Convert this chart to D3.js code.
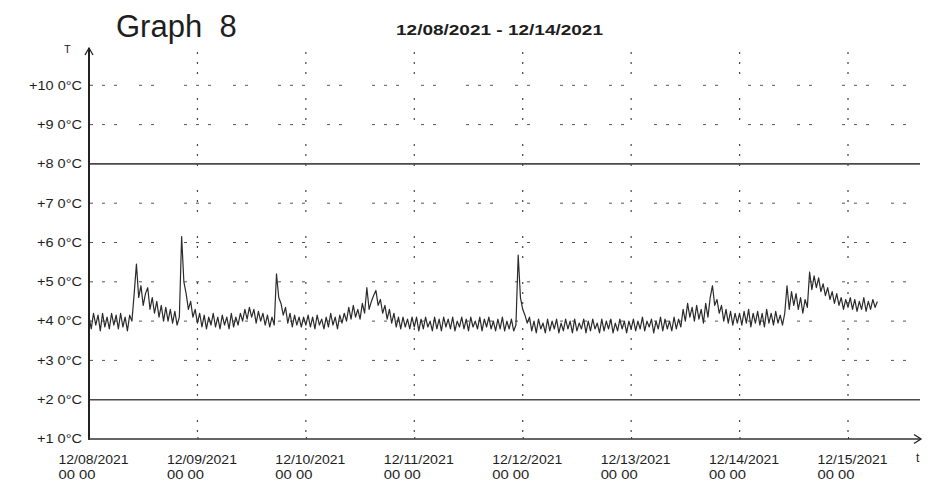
<!DOCTYPE html>
<html>
<head>
<meta charset="utf-8">
<script src="https://cdn.jsdelivr.net/npm/d3@7"></script>
<style>
  body { margin: 0; background: #fff; }
  svg { display: block; }
  text { font-family: "Liberation Sans", Arial, sans-serif; fill: #1e1e1e; }
</style>
</head>
<body>
<div id="chart"></div>
<script>
// chart texts
const titleText = "Graph  8";
const rangeText = "12/08/2021 - 12/14/2021";

// y axis ticks (degrees) and their labels as printed
const yTicks = [1, 2, 3, 4, 5, 6, 7, 8, 9, 10];
const yLabels = ["+1 0°C", "+2 0°C", "+3 0°C", "+4 0°C", "+5 0°C",
                 "+6 0°C", "+7 0°C", "+8 0°C", "+9 0°C", "+10 0°C"];
const gridLevels = [3, 4, 5, 6, 7, 9, 10];
const limitLevels = [2, 8];

// x axis days
const dayTicks = ["2021-12-08", "2021-12-09", "2021-12-10", "2021-12-11",
                  "2021-12-12", "2021-12-13", "2021-12-14", "2021-12-15"];
const dayLabels = ["12/08/2021", "12/09/2021", "12/10/2021", "12/11/2021",
                   "12/12/2021", "12/13/2021", "12/14/2021", "12/15/2021"];
const timeLabel = "00 00";

// temperature readings, one every 30 minutes, starting at each day 00:00
const day08 = [4.1,3.8,4.2,3.9,4.15,3.75,4.2,3.85,4.1,3.8,4.2,3.9,4.15,3.8,4.2,3.85,4.1,3.75,4.15,
  4.0,4.7,5.45,4.6,4.9,4.4,4.7,4.85,4.3,4.6,4.2,4.5,4.1,4.4,4.0,4.35,4.0,4.3,3.95,4.25,3.9,4.1,
  6.15,5.0,4.7,4.3,4.5,4.1,4.3];
const day09 = [3.95,4.2,3.85,4.15,3.8,4.1,3.9,4.2,3.85,4.1,3.8,4.15,3.9,4.1,3.8,4.2,3.85,4.1,3.9,4.2,
  4.0,4.3,4.05,4.35,4.1,4.3,3.95,4.25,4.0,4.2,3.9,4.15,3.85,4.1,3.9,
  5.2,4.6,4.45,4.15,4.35,3.95,4.2,3.85,4.15,3.9,4.1,3.85,4.1];
const day10 = [3.9,4.15,3.85,4.1,3.8,4.15,3.9,4.05,3.8,4.1,3.85,4.2,3.9,4.1,3.8,4.15,3.95,4.2,
  4.0,4.35,4.05,4.4,4.1,4.3,4.05,4.45,4.2,4.85,4.3,4.5,4.65,4.78,4.4,4.55,4.2,4.4,
  4.05,4.3,3.95,4.2,3.85,4.1,3.8,4.1,3.85,4.05,3.8,4.1];
const day11 = [3.85,4.1,3.75,4.05,3.8,4.1,3.85,4.0,3.75,4.1,3.8,4.05,3.75,4.1,3.85,4.05,3.8,4.1,3.75,4.0,
  3.85,4.1,3.8,4.05,3.75,4.1,3.85,4.0,3.8,4.1,3.75,4.05,3.85,4.1,3.8,4.0,3.75,4.05,3.8,4.1,
  3.75,4.0,3.8,4.05,3.75,3.9,5.68,4.6];
const day12 = [4.3,4.15,3.95,4.1,3.75,4.0,3.7,4.05,3.8,3.95,3.7,4.05,3.75,4.0,3.8,4.05,3.7,3.95,3.75,4.05,
  3.8,4.0,3.7,4.05,3.75,3.95,3.8,4.05,3.7,4.0,3.75,4.05,3.8,3.95,3.7,4.05,3.75,4.0,3.8,4.05,
  3.7,3.95,3.75,4.05,3.8,4.0,3.7,4.0];
const day13 = [3.8,4.05,3.75,4.0,3.8,4.1,3.75,4.0,3.85,4.05,3.7,4.0,3.8,4.1,3.75,4.05,3.8,4.0,3.75,4.1,
  3.8,4.05,3.85,4.3,4.0,4.45,4.1,4.35,4.0,4.4,4.05,4.3,3.95,4.45,4.1,4.6,4.9,4.4,4.55,4.2,
  4.4,4.0,4.3,3.95,4.25,3.9,4.2,3.95];
const day14 = [4.2,3.9,4.25,3.95,4.3,3.85,4.2,3.95,4.25,3.9,4.2,3.85,4.3,3.95,4.2,3.9,4.25,3.95,4.15,3.9,
  4.2,4.9,4.3,4.75,4.4,4.7,4.3,4.6,4.2,4.55,4.35,5.25,4.8,5.15,4.85,5.1,4.75,4.95,4.65,4.85,
  4.55,4.75,4.45,4.7,4.4,4.6,4.3,4.55];
const day15 = [4.35,4.6,4.3,4.55,4.25,4.5,4.3,4.6,4.25,4.5,4.3,4.55,4.35,4.5];
const dayReadings = [day08, day09, day10, day11, day12, day13, day14, day15];

const W = 935, H = 485;
const svg = d3.select('#chart').append('svg')
  .attr('width', W)
  .attr('height', H);

const parseDay = d3.utcParse('%Y-%m-%d');
const days = dayTicks.map(parseDay);

const x = d3.scaleUtc()
  .domain([days[0], days[7]])
  .range([89, 848]);

const y = d3.scaleLinear()
  .domain([1, 10])
  .range([439, 85.3]);

const xEnd = 920;

// build the series
const series = [];
dayReadings.forEach((vals, di) => {
  vals.forEach((v, i) => {
    series.push({ t: d3.utcMinute.offset(days[di], i * 30), v: v });
  });
});

// dotted grid
svg.append('g')
  .selectAll('line')
  .data(gridLevels)
  .join('line')
  .attr('x1', 90).attr('x2', xEnd - 14)
  .attr('y1', d => y(d)).attr('y2', d => y(d))
  .attr('stroke', '#555')
  .attr('stroke-width', 1)
  .attr('stroke-dasharray', '3,9,3,9,3,22,3,9,3,30');

svg.append('g')
  .selectAll('line')
  .data(days.slice(1))
  .join('line')
  .attr('x1', d => x(d)).attr('x2', d => x(d))
  .attr('y1', 52).attr('y2', 436)
  .attr('stroke', '#444')
  .attr('stroke-width', 1.2)
  .attr('stroke-dasharray', '2,8,2,8,2,24');

// solid limit lines
svg.append('g')
  .selectAll('line')
  .data(limitLevels)
  .join('line')
  .attr('x1', 89).attr('x2', xEnd)
  .attr('y1', d => y(d)).attr('y2', d => y(d))
  .attr('stroke', '#4a4a4a')
  .attr('stroke-width', 1.6);

// temperature line
const line = d3.line()
  .x(d => x(d.t))
  .y(d => y(d.v));

svg.append('path')
  .datum(series)
  .attr('fill', 'none')
  .attr('stroke', '#2b2b2b')
  .attr('stroke-width', 1.2)
  .attr('stroke-linejoin', 'round')
  .attr('d', line);

// y axis
const yAxis = d3.axisLeft(y)
  .tickValues(yTicks)
  .tickSize(0)
  .tickPadding(7)
  .tickFormat((d, i) => yLabels[i]);
const gy = svg.append('g')
  .attr('transform', 'translate(89,0)')
  .call(yAxis);
gy.select('.domain').remove();
gy.selectAll('.tick text')
  .attr('font-size', '12px')
  .attr('fill', '#1e1e1e')
  .attr('textLength', (d, i) => yLabels[i].length > 6 ? 53 : 45)
  .attr('lengthAdjust', 'spacingAndGlyphs');

// x axis
const xAxis = d3.axisBottom(x)
  .tickValues(days)
  .tickSize(0)
  .tickFormat('');
const gx = svg.append('g')
  .attr('transform', 'translate(0,439)')
  .call(xAxis);
gx.select('.domain').remove();
gx.selectAll('.tick').each(function (d, i) {
  const tk = d3.select(this);
  tk.select('text').remove();
  tk.append('text')
    .attr('x', -31).attr('y', 25)
    .attr('text-anchor', 'start')
    .attr('font-size', '12.5px')
    .attr('textLength', 70)
    .attr('lengthAdjust', 'spacingAndGlyphs')
    .text(dayLabels[i]);
  tk.append('text')
    .attr('x', -31).attr('y', 40)
    .attr('text-anchor', 'start')
    .attr('font-size', '12.5px')
    .attr('textLength', 37)
    .attr('lengthAdjust', 'spacingAndGlyphs')
    .text(timeLabel);
  tk.append('line')
    .attr('y1', -2).attr('y2', 0)
    .attr('stroke', '#333');
});

// axis lines with open arrow heads
svg.append('line')
  .attr('x1', 89).attr('x2', 89)
  .attr('y1', 440).attr('y2', 48)
  .attr('stroke', '#222').attr('stroke-width', 2);
svg.append('path')
  .attr('d', 'M85,55 L89,48 L93,55')
  .attr('fill', 'none').attr('stroke', '#222').attr('stroke-width', 1.3);

svg.append('line')
  .attr('x1', 88).attr('x2', xEnd)
  .attr('y1', 439).attr('y2', 439)
  .attr('stroke', '#333').attr('stroke-width', 1.6);
svg.append('path')
  .attr('d', `M${xEnd - 6},434.5 L${xEnd + 1},439 L${xEnd - 6},443.5`)
  .attr('fill', 'none').attr('stroke', '#222').attr('stroke-width', 1.3);

// axis names
svg.append('text')
  .attr('x', 64).attr('y', 53)
  .attr('font-size', '11px')
  .text('T');
svg.append('text')
  .attr('x', 916).attr('y', 462)
  .attr('font-size', '12px')
  .text('t');

// titles
svg.append('text')
  .attr('x', 116).attr('y', 37)
  .attr('font-size', '31px')
  .style('white-space', 'pre')
  .text(titleText);

svg.append('text')
  .attr('x', 396).attr('y', 35)
  .attr('font-size', '15px')
  .attr('font-weight', 'bold')
  .attr('textLength', 207)
  .attr('lengthAdjust', 'spacingAndGlyphs')
  .text(rangeText);
</script>
</body>
</html>
